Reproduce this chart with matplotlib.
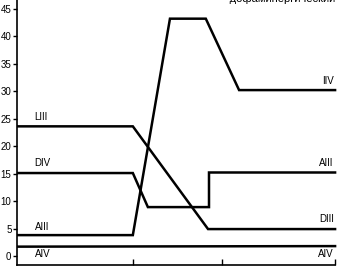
#!/usr/bin/env python3
"""Piecewise level curves (scanned figure), redrawn with matplotlib."""
import matplotlib

matplotlib.use("Agg")
import matplotlib.pyplot as plt

# time axis in arbitrary units
line_l3_x = [0.0, 3.62, 5.97, 9.94]
line_l3_y = [23.6, 23.6, 4.9, 4.9]

line_d4_x = [0.0, 3.62, 4.09, 6.0, 6.0, 9.94]
line_d4_y = [15.1, 15.1, 8.9, 8.9, 15.2, 15.2]

line_a3_x = [0.0, 3.62, 4.78, 5.9, 6.94, 9.94]
line_a3_y = [3.8, 3.8, 43.2, 43.2, 30.2, 30.2]

line_a4_x = [0.0, 9.94]
line_a4_y = [1.7, 1.8]

left_labels = ["LIII", "DIV", "AIII", "AIV"]
left_label_y = [25.3, 17.0, 5.3, 0.4]
right_labels = ["IIV", "AIII", "DIII", "AIV"]
right_label_y = [31.9, 17.0, 6.7, 0.4]

y_ticks = [0, 5, 10, 15, 20, 25, 30, 35, 40, 45]
x_ticks = [3.62, 6.41, 9.94]

plt.rcParams["font.family"] = ["Liberation Sans", "DejaVu Sans"]

fig = plt.figure(figsize=(3.37, 2.68), dpi=100)
ax = fig.add_axes([17 / 337, 3 / 268, 320 / 337, 265 / 268])

for xs, ys in [(line_l3_x, line_l3_y), (line_d4_x, line_d4_y),
               (line_a3_x, line_a3_y), (line_a4_x, line_a4_y)]:
    ax.plot(xs, ys, color="black", lw=1.8, solid_joinstyle="miter")

for lab, yv in zip(left_labels, left_label_y):
    ax.text(0.55, yv, lab, fontsize=7, ha="left", va="center")
for lab, yv in zip(right_labels, right_label_y):
    ax.text(9.9, yv, lab, fontsize=7, ha="right", va="center")

ax.set_xlim(0, 10)
ax.set_ylim(-1.64, 46.6)
ax.set_yticks(y_ticks)
ax.set_yticklabels([str(v) for v in y_ticks], fontsize=7)
ax.set_xticks(x_ticks)
ax.set_xticklabels([])
ax.tick_params(axis="y", direction="out", length=3, width=1, pad=1)
ax.tick_params(axis="x", direction="in", length=4, width=1)

for side in ["top", "right"]:
    ax.spines[side].set_visible(False)
for side in ["left", "bottom"]:
    ax.spines[side].set_linewidth(1.2)
ax.spines["bottom"].set_bounds(0, 9.94)

# legend line at the top, cut off by the page edge in the scan
fig.text(0.61, 0.991, "—    дофаминергический", fontsize=8, ha="left", va="baseline")

fig.savefig("out.png", dpi=100)
